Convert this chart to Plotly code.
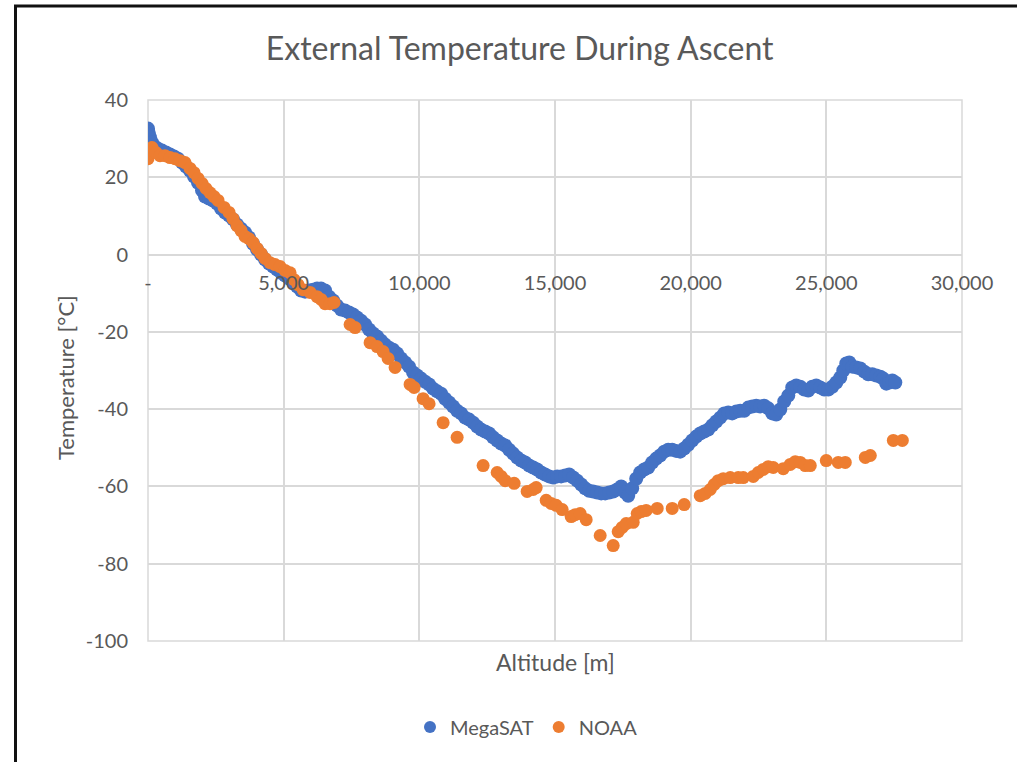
import plotly.graph_objects as go

# ---- data ----
megasat_alt = [
    0, 15, 37, 74, 147, 258, 369, 516, 664, 811,
    959, 1106, 1254, 1401, 1549, 1696, 1844, 1991, 2102, 2249,
    2397, 2544, 2692, 2839, 2986, 3134, 3281, 3429, 3576, 3724,
    3871, 4019, 4166, 4314, 4461, 4609, 4756, 4904, 5051, 5199,
    5346, 5494, 5641, 5789, 5936, 6084, 6231, 6379, 6526, 6673,
    6821, 6968, 7116, 7263, 7411, 7558, 7706, 7853, 8001, 8148,
    8296, 8443, 8591, 8738, 8886, 9033, 9181, 9328, 9476, 9623,
    9771, 9918, 10066, 10213, 10360, 10508, 10655, 10803, 10950, 11098,
    11245, 11393, 11540, 11688, 11835, 11983, 12130, 12278, 12425, 12573,
    12720, 12868, 13015, 13163, 13310, 13458, 13605, 13753, 13900, 14047,
    14195, 14342, 14490, 14637, 14785, 14932, 15080, 15227, 15375, 15522,
    15670, 15817, 15965, 16112, 16260, 16407, 16555, 16702, 16850, 16997,
    17145, 17292, 17440, 17587, 17698, 17845, 17993, 18140, 18288, 18435,
    18582, 18730, 18877, 19025, 19172, 19320, 19467, 19615, 19762, 19910,
    20057, 20205, 20352, 20500, 20647, 20795, 20942, 21090, 21237, 21385,
    21532, 21680, 21827, 21975, 22122, 22269, 22417, 22564, 22712, 22859,
    23007, 23154, 23302, 23449, 23597, 23744, 23892, 24039, 24187, 24334,
    24482, 24629, 24777, 24924, 25072, 25219, 25367, 25514, 25625, 25735,
    25846, 25957, 26104, 26252, 26399, 26546, 26694, 26841, 26989, 27100,
    27210, 27321, 27431, 27542,
]
megasat_temp = [
    32.6, 31.8, 31.0, 30.3, 29.0, 27.9, 27.4, 26.9, 26.4, 25.9,
    25.4, 24.8, 23.8, 22.8, 21.7, 20.2, 18.6, 16.6, 15.0, 14.5,
    14.0, 13.2, 11.9, 10.9, 10.1, 9.1, 7.8, 6.7, 5.7, 4.4,
    2.8, 1.3, 0.0, -1.3, -2.3, -3.1, -3.9, -4.7, -5.4, -6.2,
    -7.2, -8.3, -9.3, -9.6, -9.3, -9.1, -8.8, -8.8, -9.3, -10.9,
    -11.9, -13.2, -14.2, -14.5, -15.0, -15.5, -16.3, -17.1, -18.1, -19.4,
    -20.4, -21.2, -22.3, -23.3, -24.1, -24.6, -25.6, -26.9, -27.9, -29.0,
    -30.5, -31.3, -32.1, -32.9, -33.6, -34.7, -35.4, -36.0, -37.3, -38.3,
    -39.3, -40.4, -41.1, -42.2, -42.7, -43.5, -44.5, -45.3, -45.8, -46.3,
    -47.3, -48.1, -48.9, -49.4, -50.5, -51.5, -52.5, -53.3, -53.8, -54.6,
    -55.1, -55.6, -56.4, -56.9, -57.4, -57.7, -57.4, -57.4, -57.2, -56.9,
    -57.7, -58.5, -59.5, -60.5, -61.1, -61.3, -61.6, -61.8, -61.8, -61.6,
    -61.3, -60.8, -60.0, -61.6, -62.4, -60.5, -58.0, -56.4, -55.6, -55.1,
    -53.8, -52.8, -52.0, -51.0, -50.5, -50.5, -50.8, -51.0, -50.2, -49.2,
    -48.1, -47.1, -46.3, -45.8, -45.3, -44.2, -43.2, -42.2, -41.1, -40.9,
    -41.1, -40.6, -40.4, -40.4, -39.6, -39.3, -39.1, -39.3, -39.1, -39.8,
    -41.1, -41.4, -40.1, -38.0, -36.5, -34.4, -33.9, -34.2, -34.9, -35.2,
    -34.2, -33.9, -34.4, -34.9, -34.9, -34.2, -33.1, -31.8, -30.0, -28.2,
    -27.9, -29.0, -29.2, -29.5, -30.3, -31.0, -31.0, -31.3, -31.6, -32.1,
    -33.4, -33.1, -32.6, -33.1,
]

noaa_alt = [
    0, 37, 147, 295, 442, 627, 811, 995, 1180, 1364,
    1549, 1696, 1844, 1991, 2138, 2286, 2433, 2581, 2802, 2986,
    3134, 3281, 3429, 3576, 3724, 3871, 4019, 4166, 4314, 4498,
    4682, 4867, 5051, 5236, 5383, 5531, 5715, 5973, 6231, 6379,
    6526, 6710, 6858, 7448, 7632, 8185, 8443, 8664, 8849, 9107,
    9660, 9807, 10139, 10360, 10877, 11393, 12351, 12868, 13015, 13163,
    13494, 13974, 14195, 14306, 14675, 14859, 15043, 15264, 15596, 15743,
    15928, 16149, 16665, 17145, 17329, 17477, 17624, 17882, 18029, 18177,
    18361, 18767, 19320, 19762, 20352, 20537, 20721, 20868, 21016, 21200,
    21458, 21753, 21938, 22306, 22491, 22675, 22859, 23044, 23412, 23671,
    23855, 24039, 24223, 24408, 24998, 25440, 25698, 26436, 26621, 27469,
    27801,
]
noaa_temp = [
    24.8, 26.9, 27.7, 26.4, 25.6, 25.6, 25.1, 24.8, 24.3, 23.8,
    22.3, 21.2, 19.7, 18.4, 17.1, 16.0, 15.0, 14.0, 12.2, 10.9,
    9.3, 7.5, 6.2, 4.7, 4.1, 3.1, 1.6, 0.3, -1.0, -2.1,
    -2.6, -3.1, -4.1, -4.7, -6.5, -7.8, -9.1, -9.8, -10.9, -11.6,
    -12.7, -12.7, -12.4, -18.1, -18.9, -22.8, -23.8, -25.1, -26.9, -29.2,
    -33.6, -34.4, -37.3, -38.6, -43.5, -47.3, -54.6, -56.4, -57.4, -58.5,
    -59.2, -61.3, -60.8, -60.3, -63.6, -64.4, -64.9, -66.0, -67.8, -67.3,
    -67.0, -68.6, -72.7, -75.3, -71.7, -70.6, -69.6, -69.3, -67.0, -66.5,
    -66.2, -65.7, -65.7, -64.7, -62.4, -61.8, -60.8, -59.5, -58.5, -58.0,
    -57.7, -57.7, -57.7, -57.4, -56.4, -55.6, -54.9, -55.1, -55.4, -54.3,
    -53.6, -53.8, -54.6, -54.6, -53.3, -53.8, -53.8, -52.5, -52.0, -48.1,
    -48.1,
]

x_tickvals = [0, 5000, 10000, 15000, 20000, 25000, 30000]
x_ticktext = ["-", "5,000", "10,000", "15,000", "20,000", "25,000", "30,000"]
y_tickvals = [40, 20, 0, -20, -40, -60, -80, -100]
y_ticktext = ["40", "20", "0", "-20", "-40", "-60", "-80", "-100"]

FONT = "Lato"
GRAY = "#595959"
GRID = "#d9d9d9"

fig = go.Figure()
fig.add_trace(go.Scatter(
    x=megasat_alt, y=megasat_temp, mode="markers", name="MegaSAT",
    marker=dict(color="#4472C4", size=14, line=dict(width=0)),
))
fig.add_trace(go.Scatter(
    x=noaa_alt, y=noaa_temp, mode="markers", name="NOAA",
    marker=dict(color="#ED7D31", size=13, line=dict(width=0)),
))

fig.update_layout(
    width=1017, height=762,
    margin=dict(l=148, r=55, t=100, b=121),
    paper_bgcolor="white", plot_bgcolor="white",
    font=dict(family=FONT, color=GRAY),
    title=dict(text="External Temperature During Ascent",
               x=0.511, xanchor="center", y=1 - 48.5 / 762, yanchor="middle",
               font=dict(size=32, family=FONT, color=GRAY)),
    showlegend=True,
    legend=dict(orientation="h", x=0.465, xanchor="center",
                y=-(727 - 641) / 541, yanchor="middle",
                font=dict(size=20, family=FONT, color=GRAY),
                itemsizing="constant", bgcolor="rgba(0,0,0,0)"),
    xaxis=dict(range=[0, 30000], tickvals=x_tickvals, ticktext=x_ticktext,
               anchor="free", position=100 / 140,
               showgrid=True, gridcolor=GRID, gridwidth=1.5,
               zeroline=False, showline=False, ticks="",
               ticklabelstandoff=14,
               tickfont=dict(size=20, family=FONT, color=GRAY)),
    yaxis=dict(range=[-100, 40], tickvals=y_tickvals, ticktext=y_ticktext,
               showgrid=True, gridcolor=GRID, gridwidth=1.5,
               zeroline=False, showline=False, ticks="",
               ticklabelstandoff=19,
               tickfont=dict(size=20, family=FONT, color=GRAY)),
    annotations=[
        dict(text="Altitude [m]", xref="paper", yref="paper",
             x=0.5, y=-(662 - 641) / 541, xanchor="center", yanchor="middle",
             showarrow=False, font=dict(size=23, family=FONT, color=GRAY)),
        dict(text="Temperature [°C]", xref="paper", yref="paper",
             x=-(148 - 65) / 814, y=0.5 - (378 - 370.5) / 541,
             xanchor="center", yanchor="middle", textangle=-90,
             showarrow=False, font=dict(size=22, family=FONT, color=GRAY)),
    ],
    shapes=[
        dict(type="rect", xref="paper", yref="paper", x0=0, x1=1, y0=0, y1=1,
             line=dict(color=GRID, width=1.5), layer="below"),
        dict(type="line", xref="paper", yref="paper",
             x0=-(148 - 15.5) / 814, x1=-(148 - 15.5) / 814,
             y0=1 + (100 - 5.5) / 541, y1=-0.4,
             line=dict(color="#111111", width=3)),
        dict(type="line", xref="paper", yref="paper",
             x0=-(148 - 14) / 814, x1=1.2,
             y0=1 + (100 - 6) / 541, y1=1 + (100 - 6) / 541,
             line=dict(color="#111111", width=3)),
    ],
)

fig.write_html("out.html")
